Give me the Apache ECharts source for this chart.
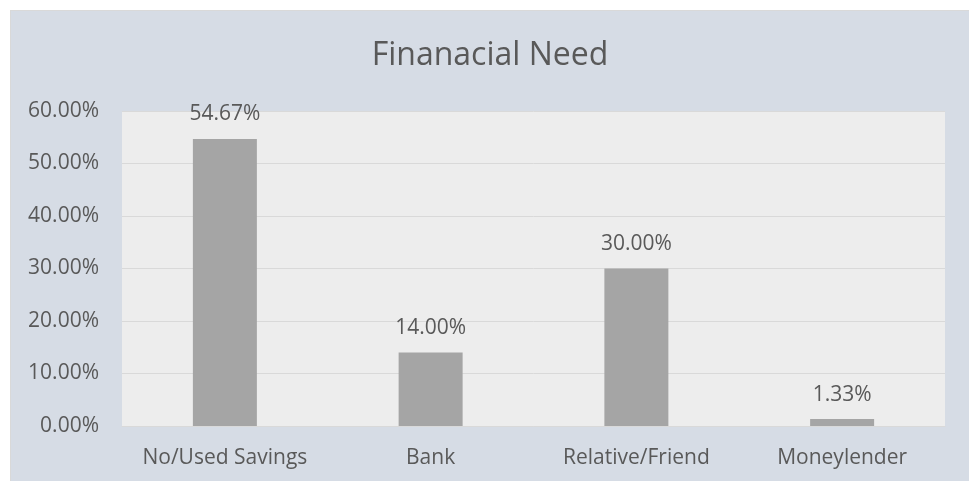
<!DOCTYPE html>
<html>
<head>
<meta charset="utf-8">
<script src="https://cdn.jsdelivr.net/npm/echarts@6/dist/echarts.min.js"></script>
<style>
  html, body { margin: 0; padding: 0; background: #ffffff; overflow: hidden; }
  #chart {
    position: absolute; left: 10px; top: 10px;
    width: 958px; height: 470px;
    background: #d6dce5;
    border-top: 1px solid #d9d9d9;
    border-left: 1px solid #d9d9d9;
  }
</style>
</head>
<body>
<div id="chart"></div>
<script>
// Source of funds for financial need (% of respondents)
const categories = ['No/Used Savings', 'Bank', 'Relative/Friend', 'Moneylender'];
const shares = [54.67, 14.00, 30.00, 1.33];
const yTicks = { min: 0, max: 60, interval: 10 };

const textColor = '#595959';
const fontFamily = '"Open Sans", "Noto Sans", sans-serif';

const chart = echarts.init(document.getElementById('chart'));
chart.setOption({
  animation: false,
  textStyle: { fontFamily: fontFamily },
  title: {
    text: 'Finanacial Need',
    left: 'center',
    top: 24,
    textStyle: { color: textColor, fontSize: 32, fontWeight: 'normal', fontFamily: fontFamily }
  },
  grid: {
    left: 111, right: 24, top: 100, bottom: 55,
    show: true, backgroundColor: '#ededed', borderWidth: 0
  },
  xAxis: {
    type: 'category',
    data: categories,
    axisLine: { show: true, lineStyle: { color: '#d9d9d9', width: 1 } },
    axisTick: { show: false },
    axisLabel: { color: textColor, fontSize: 21, margin: 22, interval: 0, fontFamily: fontFamily }
  },
  yAxis: {
    type: 'value',
    min: yTicks.min, max: yTicks.max, interval: yTicks.interval,
    axisLine: { show: false },
    axisTick: { show: false },
    splitLine: { lineStyle: { color: '#d9d9d9', width: 1 } },
    axisLabel: {
      color: textColor, fontSize: 21, margin: 23, fontFamily: fontFamily,
      formatter: v => v.toFixed(2) + '%'
    }
  },
  series: [{
    type: 'bar',
    data: shares,
    barWidth: 64,
    itemStyle: { color: '#a5a5a5' },
    label: {
      show: true, position: 'top', distance: 14,
      color: textColor, fontSize: 21, fontFamily: fontFamily,
      formatter: p => p.value.toFixed(2) + '%'
    }
  }]
});
</script>
</body>
</html>
